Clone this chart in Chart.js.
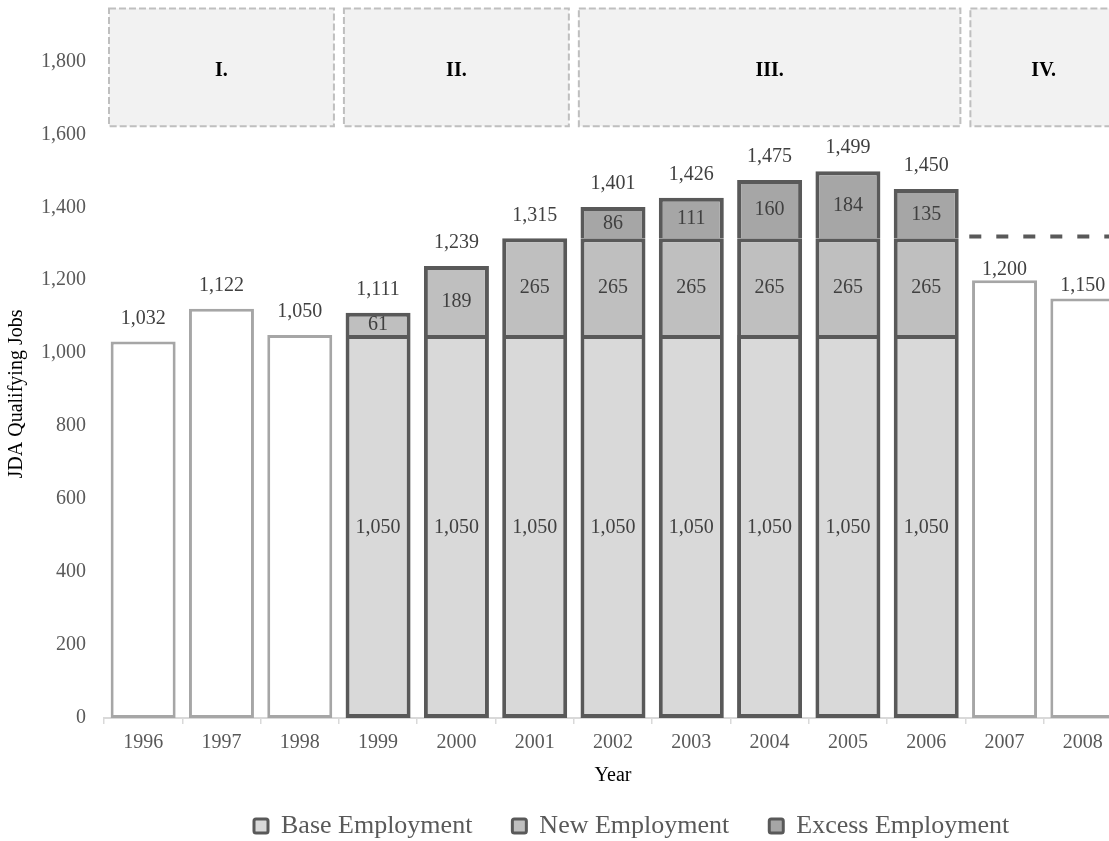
<!DOCTYPE html>
<html lang="en">
<head>
  <meta charset="UTF-8">
  <title>JDA Qualifying Jobs</title>
  <script src="https://cdn.jsdelivr.net/npm/chart.js"></script>
  <style>
    html, body { margin: 0; padding: 0; background: #fff; overflow: hidden; }
    #wrap { position: relative; width: 1130px; height: 841px; }
  </style>
</head>
<body>
  <div id="wrap"><canvas id="jobsChart"></canvas></div>

  <script>
    const years = ['1996', '1997', '1998', '1999', '2000', '2001', '2002', '2003', '2004', '2005', '2006', '2007', '2008'];
    const baseEmployment   = [null, null, null, 1050, 1050, 1050, 1050, 1050, 1050, 1050, 1050, null, null];
    const newEmployment    = [null, null, null, 61, 189, 265, 265, 265, 265, 265, 265, null, null];
    const excessEmployment = [null, null, null, null, null, null, 86, 111, 160, 184, 135, null, null];
    const otherYears       = [1032, 1122, 1050, null, null, null, null, null, null, null, null, 1200, 1150];
    const yTicks = [0, 200, 400, 600, 800, 1000, 1200, 1400, 1600, 1800];
    const periodNames = ['I.', 'II.', 'III.', 'IV.'];
    const periodFirst = ['1996', '1999', '2002', '2007'];
    const periodLast  = ['1998', '2001', '2006', '2008'];
    const capLevel = 1320;

    const SERIF = "'Liberation Serif', 'Times New Roman', serif";
    const fmt = v => v.toLocaleString('en-US');

    // dashed boxes naming the four periods
    const periodBoxes = {
      id: 'periodBoxes',
      beforeDatasetsDraw(chart) {
        const { ctx, scales: { x, y } } = chart;
        const band = x.getPixelForValue(1) - x.getPixelForValue(0);
        const top = y.getPixelForValue(1945);
        const bottom = y.getPixelForValue(1622);
        ctx.save();
        periodNames.forEach((name, i) => {
          const l = x.getPixelForValue(years.indexOf(periodFirst[i])) - band / 2 + 5;
          const r = x.getPixelForValue(years.indexOf(periodLast[i])) + band / 2 - 5;
          ctx.fillStyle = '#f2f2f2';
          ctx.fillRect(l, top, r - l, bottom - top);
          ctx.setLineDash([7, 3]);
          ctx.lineWidth = 2;
          ctx.strokeStyle = '#bfbfbf';
          ctx.strokeRect(l, top, r - l, bottom - top);
          ctx.setLineDash([]);
          ctx.fillStyle = '#000';
          ctx.font = 'bold 20px ' + SERIF;
          ctx.textAlign = 'center';
          ctx.textBaseline = 'middle';
          ctx.fillText(name, (l + r) / 2, (top + bottom) / 2 + 3);
        });
        ctx.restore();
      }
    };

    // dashed cap line over 2007-2008
    const capLine = {
      id: 'capLine',
      afterDatasetsDraw(chart) {
        const { ctx, chartArea, scales: { x, y } } = chart;
        const band = x.getPixelForValue(1) - x.getPixelForValue(0);
        const start = x.getPixelForValue(years.indexOf('2007')) - band * 0.45;
        const yy = y.getPixelForValue(capLevel);
        ctx.save();
        ctx.strokeStyle = '#595959';
        ctx.lineWidth = 4;
        ctx.setLineDash([12, 15]);
        ctx.beginPath();
        ctx.moveTo(start, yy);
        ctx.lineTo(chartArea.right, yy);
        ctx.stroke();
        ctx.restore();
      }
    };

    // segment values and totals
    const labelLift = { '2007': 10, '2008': 13 };
    const valueLabels = {
      id: 'valueLabels',
      afterDatasetsDraw(chart) {
        const { ctx, scales: { x, y } } = chart;
        ctx.save();
        ctx.font = '20px ' + SERIF;
        ctx.fillStyle = '#404040';
        ctx.textAlign = 'center';
        ctx.textBaseline = 'middle';
        [0, 1, 2].forEach(di => {
          chart.getDatasetMeta(di).data.forEach((bar, i) => {
            const v = chart.data.datasets[di].data[i];
            if (v == null) return;
            ctx.fillText(fmt(v), bar.x, (bar.y + bar.base) / 2 + 1);
          });
        });
        years.forEach((yr, i) => {
          const total = [baseEmployment, newEmployment, excessEmployment, otherYears]
            .reduce((s, arr) => s + (arr[i] || 0), 0);
          const lift = labelLift[yr] || 23;
          ctx.fillText(fmt(total), x.getPixelForValue(i), y.getPixelForValue(total) - lift);
        });
        ctx.restore();
      }
    };

    // y title sits lower than the plot centre in the original
    const yTitle = {
      id: 'yTitle',
      afterDraw(chart) {
        const ctx = chart.ctx;
        ctx.save();
        ctx.translate(17, 394);
        ctx.rotate(-Math.PI / 2);
        ctx.font = '20px ' + SERIF;
        ctx.fillStyle = '#000';
        ctx.textAlign = 'center';
        ctx.textBaseline = 'middle';
        ctx.fillText('JDA Qualifying Jobs', 0, 0);
        ctx.restore();
      }
    };

    const legendPlace = {
      id: 'legendPlace',
      afterLayout(chart) {
        const lg = chart.legend;
        const pad = lg.options.labels.padding;
        lg.left = 254 - pad;
        lg.top = 826 - 13 - pad;
      }
    };

    const barStyle = { barPercentage: 0.83, categoryPercentage: 1 };

    new Chart(document.getElementById('jobsChart'), {
      type: 'bar',
      data: {
        labels: years,
        datasets: [
          { label: 'Base Employment', data: baseEmployment, backgroundColor: '#d9d9d9',
            borderColor: '#595959', borderWidth: 4, borderSkipped: false, ...barStyle },
          { label: 'New Employment', data: newEmployment, backgroundColor: '#bfbfbf',
            borderColor: '#595959', borderWidth: 4, ...barStyle },
          { label: 'Excess Employment', data: excessEmployment, backgroundColor: '#a6a6a6',
            borderColor: '#595959', borderWidth: 4, ...barStyle },
          { label: 'Employment', data: otherYears, backgroundColor: '#ffffff',
            borderColor: '#a6a6a6', borderWidth: 3, borderSkipped: false, ...barStyle }
        ]
      },
      options: {
        responsive: true,
        maintainAspectRatio: false,
        animation: false,
        layout: { padding: { top: 3, right: 8, left: 0, bottom: 0 } },
        plugins: {
          tooltip: { enabled: false },
          legend: {
            position: 'bottom',
            align: 'start',
            maxHeight: 53,
            labels: {
              color: '#595959',
              font: { family: SERIF, size: 26 },
              boxWidth: 14,
              boxHeight: 14,
              padding: 40,
              useBorderRadius: true,
              borderRadius: 2,
              filter: item => item.datasetIndex < 3,
              generateLabels(chart) {
                return Chart.defaults.plugins.legend.labels.generateLabels(chart)
                  .map(it => Object.assign(it, { lineWidth: 3, strokeStyle: '#595959' }));
              }
            }
          }
        },
        scales: {
          x: {
            stacked: true,
            grid: { display: true, drawOnChartArea: false, drawTicks: true, tickLength: 6, color: '#d9d9d9', lineWidth: 1.5 },
            border: { color: '#d9d9d9', width: 2 },
            ticks: { color: '#595959', font: { family: SERIF, size: 20 }, padding: 7, maxRotation: 0 },
            title: { display: true, text: 'Year', color: '#000', font: { family: SERIF, size: 20 }, padding: { top: 0, bottom: 0 } },
            afterFit(s) { s.height = 70; }
          },
          y: {
            stacked: true,
            min: 0,
            max: 1960,
            grid: { display: false, drawTicks: false },
            border: { display: false },
            ticks: { color: '#595959', font: { family: SERIF, size: 20 }, padding: 18, callback: v => fmt(v) },
            afterBuildTicks(s) { s.ticks = yTicks.map(v => ({ value: v })); },
            afterFit(s) { s.width = 104; s.paddingTop = 0; s.paddingBottom = 0; }
          }
        }
      },
      plugins: [periodBoxes, capLine, valueLabels, yTitle, legendPlace]
    });
  </script>
</body>
</html>
